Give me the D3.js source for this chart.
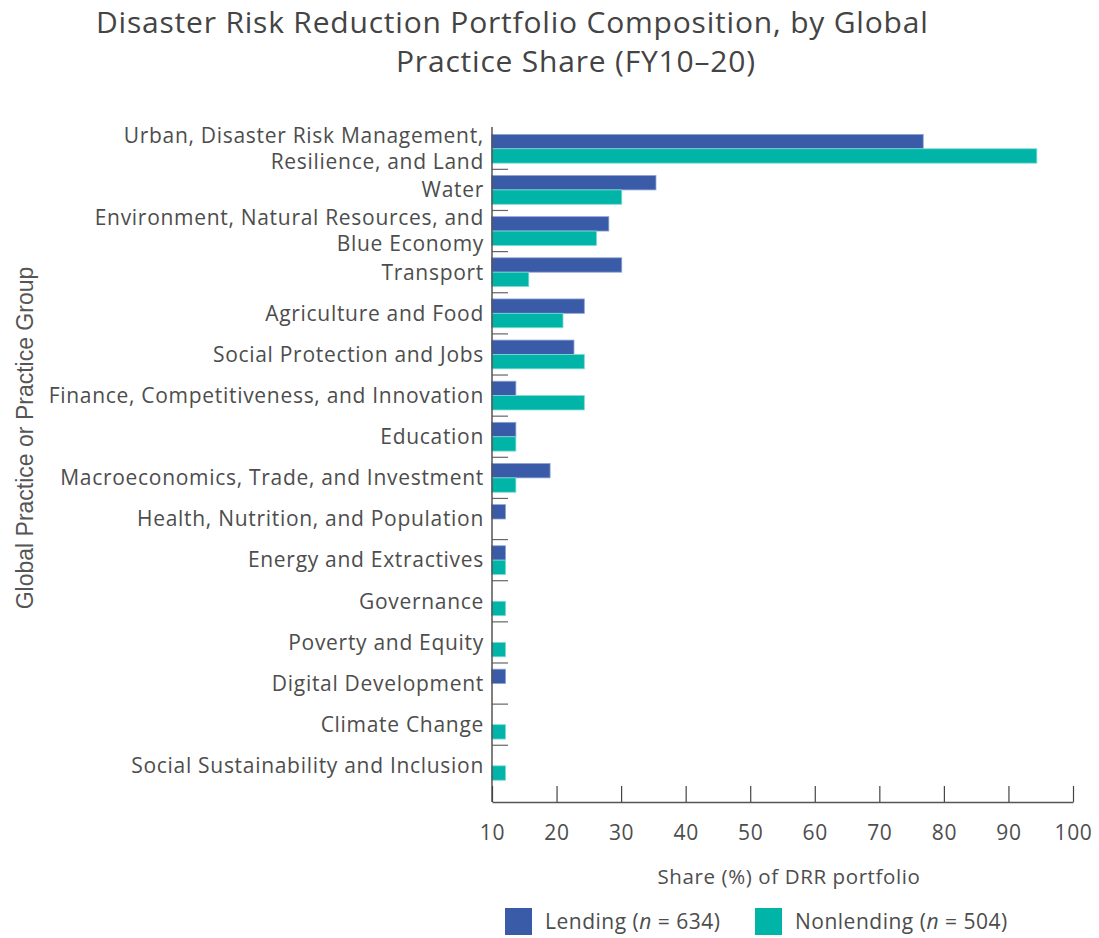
<!DOCTYPE html>
<html>
<head>
<meta charset="utf-8">
<script src="https://cdn.jsdelivr.net/npm/d3@7"></script>
<style>
  html, body { margin: 0; padding: 0; background: #fff; }
  svg { display: block; }
  text { font-family: "Open Sans", "Lato", sans-serif; fill: #4a4a4a; }
</style>
</head>
<body>
<svg id="chart" width="1099" height="938"></svg>
<script>
// ---- data ----
const categories = [
  "Urban, Disaster Risk Management,\nResilience, and Land",
  "Water",
  "Environment, Natural Resources, and\nBlue Economy",
  "Transport",
  "Agriculture and Food",
  "Social Protection and Jobs",
  "Finance, Competitiveness, and Innovation",
  "Education",
  "Macroeconomics, Trade, and Investment",
  "Health, Nutrition, and Population",
  "Energy and Extractives",
  "Governance",
  "Poverty and Equity",
  "Digital Development",
  "Climate Change",
  "Social Sustainability and Inclusion"
];
const lending    = [76.8, 35.4, 28.1, 30.1, 24.3, 22.7, 13.7, 13.7, 19.0, 12.1, 12.1, null, null, 12.1, null, null];
const nonlending = [94.4, 30.1, 26.2, 15.7, 21.0, 24.3, 24.3, 13.7, 13.7, null, 12.1, 12.1, 12.1, null, 12.1, 12.1];
const seriesNames = ["Lending", "Nonlending"];
const legendCounts = [634, 504];
const xTicks = [10, 20, 30, 40, 50, 60, 70, 80, 90, 100];
const titleLines = ["Disaster Risk Reduction Portfolio Composition, by Global", "Practice Share (FY10\u201320)"];
const xTitle = "Share (%) of DRR portfolio";
const yTitle = "Global Practice or Practice Group";

// ---- styles / layout ----
const colors = { Lending: "#3a5ba8", Nonlending: "#00b5a8" };
const strokes = { Lending: "#8fa3d3", Nonlending: "#7fdad3" };
const svg = d3.select("#chart");
const x0 = 492, x1 = 1073, yTop = 128.2, yBot = 786.4, axisY = 802;

const x = d3.scaleLinear().domain([10, 100]).range([x0, x1]);
const y = d3.scaleBand().domain(d3.range(categories.length)).range([yTop, yBot]).paddingInner(0).paddingOuter(0);
const ySub = d3.scaleBand().domain(seriesNames).range([0, y.bandwidth()]).paddingInner(0).paddingOuter(0.43);

// Title
svg.append("text").attr("x", 96).attr("y", 33).style("font-size", "30px").style("letter-spacing", "0.8px").style("fill", "#444").text(titleLines[0]);
svg.append("text").attr("x", 396).attr("y", 72).style("font-size", "30px").style("letter-spacing", "0.8px").style("fill", "#444").text(titleLines[1]);

// Bars
const rows = categories.map((c, i) => ({ i, Lending: lending[i], Nonlending: nonlending[i] }));
const g = svg.append("g");
rows.forEach(r => {
  seriesNames.forEach(s => {
    if (r[s] == null) return;
    g.append("rect")
      .attr("x", x(10) - 0.5)
      .attr("y", y(r.i) + ySub(s))
      .attr("width", x(r[s]) - x(10) + 0.5)
      .attr("height", ySub.bandwidth())
      .attr("fill", colors[s])
      .attr("stroke", strokes[s])
      .attr("stroke-width", 0.8);
  });
});

// Category labels
rows.forEach(r => {
  const lines = categories[r.i].split("\n");
  const cy = y(r.i) + y.bandwidth() / 2;
  const lh = 26;
  const t = svg.append("text")
    .attr("text-anchor", "end")
    .style("font-size", "21px")
    .style("letter-spacing", "0.7px")
    .style("fill", "#4d4d4d");
  lines.forEach((ln, k) => {
    t.append("tspan")
      .attr("x", 484)
      .attr("y", cy + (k - (lines.length - 1) / 2) * lh)
      .attr("dy", "0.35em")
      .text(ln);
  });
});

// Category boundary ticks
svg.append("g").selectAll("line")
  .data(d3.range(1, categories.length))
  .join("line")
  .attr("x1", x0).attr("x2", x0 + 16)
  .attr("y1", d => y(d)).attr("y2", d => y(d))
  .attr("stroke", "#666").attr("stroke-width", 1.2);

// Y axis line
svg.append("line").attr("x1", x0).attr("x2", x0).attr("y1", 127).attr("y2", axisY)
  .attr("stroke", "#555").attr("stroke-width", 1.5);

// X axis
const xAxis = d3.axisBottom(x).tickValues(xTicks).tickSizeInner(-16).tickSizeOuter(0).tickPadding(23);
const xa = svg.append("g").attr("transform", `translate(0,${axisY})`).call(xAxis);
xa.select(".domain").attr("stroke", "#555").attr("stroke-width", 1.5);
xa.selectAll(".tick line").attr("stroke", "#444").attr("stroke-width", 1.2);
xa.selectAll(".tick text").style("font-size", "21px").style("letter-spacing", "0.7px").style("fill", "#4d4d4d")
  .style("font-family", "'Open Sans', sans-serif");

// X title
svg.append("text").attr("x", 789).attr("y", 884).attr("text-anchor", "middle")
  .style("font-size", "20.5px").style("letter-spacing", "0.6px").style("fill", "#4d4d4d").text(xTitle);

// Y title
svg.append("text")
  .attr("transform", "translate(33,438) rotate(-90)")
  .attr("text-anchor", "middle")
  .style("font-family", "'Liberation Sans', Arial, sans-serif")
  .style("font-size", "23px").style("fill", "#555")
  .text(yTitle);

// Legend
const legendX = [505, 755];
seriesNames.forEach((s, k) => {
  const lg = svg.append("g").attr("transform", `translate(${legendX[k]},908)`);
  lg.append("rect").attr("width", 27).attr("height", 27).attr("fill", colors[s]);
  const t = lg.append("text").attr("x", 40).attr("y", 21).style("font-size", "21px").style("letter-spacing", "0.5px").style("fill", "#4d4d4d");
  t.append("tspan").text(s + " (");
  t.append("tspan").style("font-style", "italic").text("n");
  t.append("tspan").text(" = " + legendCounts[k] + ")");
});
</script>
</body>
</html>
